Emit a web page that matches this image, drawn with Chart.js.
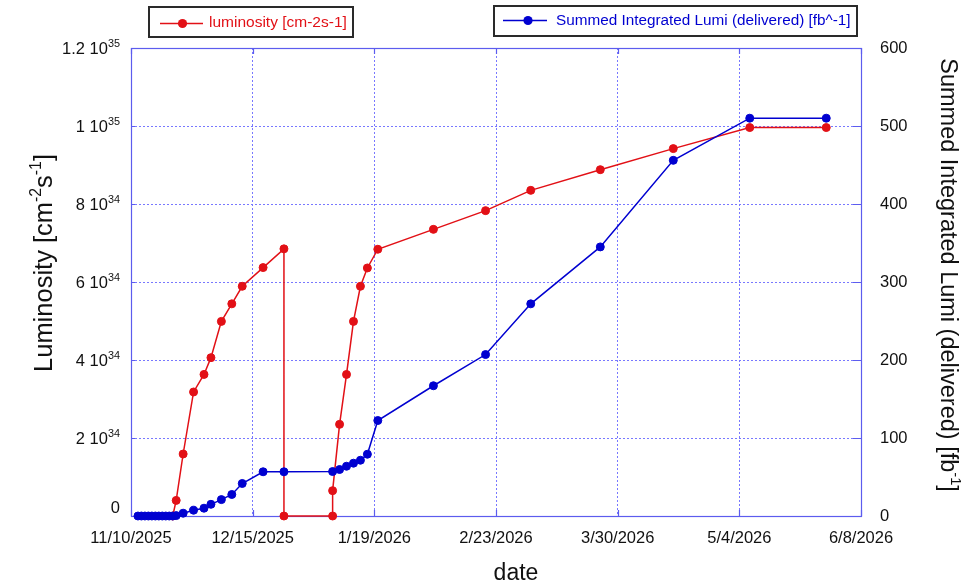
<!DOCTYPE html>
<html><head><meta charset="utf-8">
<script src="https://cdn.jsdelivr.net/npm/chart.js@4"></script>
<style>html,body{margin:0;padding:0;background:#fff;}#wrap{width:978px;height:584px;position:relative;}</style>
</head><body><div id="wrap"><canvas id="c" width="978" height="584"></canvas></div>
<script>
// ---- data ----
const startDate = '2025-11-10';
const xTickLabels = ['11/10/2025','12/15/2025','1/19/2026','2/23/2026','3/30/2026','5/4/2026','6/8/2026'];
const leftTickMantissa = ['0','2 10','4 10','6 10','8 10','1 10','1.2 10'];
const leftTickExponent = ['','34','34','34','34','35','35'];
const rightTickLabels = ['0','100','200','300','400','500','600'];

const lumiDates = ['2025-11-22','2025-11-23','2025-11-25','2025-11-28','2025-12-01','2025-12-03','2025-12-06','2025-12-09','2025-12-12','2025-12-18','2025-12-24','2025-12-24','2026-01-07','2026-01-07','2026-01-09','2026-01-11','2026-01-13','2026-01-15','2026-01-17','2026-01-20','2026-02-05','2026-02-20','2026-03-05','2026-03-25','2026-04-15','2026-05-07','2026-05-29'];
const lumiValues = [0,0.40e34,1.59e34,3.18e34,3.63e34,4.06e34,4.99e34,5.44e34,5.89e34,6.37e34,6.85e34,0,0,0.65e34,2.35e34,3.63e34,4.99e34,5.89e34,6.36e34,6.84e34,7.35e34,7.83e34,8.35e34,8.88e34,9.42e34,9.96e34,9.96e34];

const intDates = ['2025-11-12','2025-11-13','2025-11-14','2025-11-15','2025-11-16','2025-11-17','2025-11-18','2025-11-19','2025-11-20','2025-11-21','2025-11-22','2025-11-23','2025-11-25','2025-11-28','2025-12-01','2025-12-03','2025-12-06','2025-12-09','2025-12-12','2025-12-18','2025-12-24','2026-01-07','2026-01-09','2026-01-11','2026-01-13','2026-01-15','2026-01-17','2026-01-20','2026-02-05','2026-02-20','2026-03-05','2026-03-25','2026-04-15','2026-05-07','2026-05-29'];
const intValues = [0,0,0,0,0,0,0,0,0,0,0,0.5,3.6,7.4,10,15,21,27.6,41.7,56.7,56.7,57,59.6,63.8,67.7,71.5,79.2,122.4,167,207,272,345,456,510,510];

// ---- helpers ----
function dayOf(s){const [y,m,d]=s.split('-').map(Number);const [y0,m0,d0]=startDate.split('-').map(Number);return Math.round((Date.UTC(y,m-1,d)-Date.UTC(y0,m0-1,d0))/864e5);}
const FONT = '"Liberation Sans", Arial, sans-serif';
const RED = 'rgb(226,16,22)';
const BLUE = 'rgb(0,0,208)';
const AXIS = 'rgb(92,92,238)';
const GRID = 'rgb(120,120,255)';

function richText(ctx, parts, x, y, size, align, supScale, supRise){
  supScale = supScale||0.62; supRise = supRise||0.42;
  let w = 0;
  parts.forEach(p=>{ctx.font=(p[1]?size*supScale:size)+'px '+FONT; w+=ctx.measureText(p[0]).width;});
  let cx = align==='center'? x-w/2 : (align==='right'? x-w : x);
  parts.forEach(p=>{
    const s = p[1]?size*supScale:size;
    ctx.font = s+'px '+FONT;
    ctx.fillText(p[0], cx, p[1]? y-size*supRise : y);
    cx += ctx.measureText(p[0]).width;
  });
}

const decor = {
  id:'decor',
  beforeDatasetsDraw(chart){
    const {ctx, chartArea:a, scales} = chart;
    ctx.save();
    ctx.strokeStyle = AXIS; ctx.lineWidth = 1.2;
    ctx.strokeRect(Math.round(a.left)+0.5, Math.round(a.top)+0.5, Math.round(a.right-a.left), Math.round(a.bottom-a.top));
    ctx.beginPath();
    scales.x.ticks.forEach(t=>{const px=Math.round(scales.x.getPixelForValue(t.value))+0.5;ctx.moveTo(px,a.bottom);ctx.lineTo(px,a.bottom-6);ctx.moveTo(px,a.top);ctx.lineTo(px,a.top+6);});
    scales.y.ticks.forEach(t=>{const py=Math.round(scales.y.getPixelForValue(t.value))+0.5;ctx.moveTo(a.left,py);ctx.lineTo(a.left+4,py);ctx.moveTo(a.right,py);ctx.lineTo(a.right-8,py);});
    ctx.stroke();
    ctx.restore();
  },
  afterDraw(chart){
    const {ctx, scales} = chart;
    ctx.save();
    ctx.fillStyle = '#111';
    ctx.textBaseline = 'alphabetic';
    // left tick labels with exponents
    scales.y.ticks.forEach((t,i)=>{
      let py = scales.y.getPixelForValue(t.value);
      if (i===0) py -= 9;
      const parts = [[leftTickMantissa[i],0]];
      if (leftTickExponent[i]) parts.push([leftTickExponent[i],1]);
      richText(ctx, parts, 120, py+6, 16.5, 'right', 0.66, 0.43);
    });
    // x title
    ctx.font = '23px '+FONT; ctx.textAlign='left';
    richText(ctx, [['date',0]], 516, 580, 23, 'center');
    // left title
    ctx.save(); ctx.translate(52, 263); ctx.rotate(-Math.PI/2);
    richText(ctx, [['Luminosity [cm',0],['-2',1],['s',0],['-1',1],[']',0]], 0, 0, 25.5, 'center');
    ctx.restore();
    // right title
    ctx.save(); ctx.translate(941, 275); ctx.rotate(Math.PI/2);
    richText(ctx, [['Summed Integrated Lumi (delivered) [fb',0],['-1',1],[']',0]], 0, 0, 23.5, 'center');
    ctx.restore();
    // legends
    ctx.lineWidth = 2; ctx.strokeStyle = '#2a2a2a';
    ctx.strokeRect(149, 7, 204, 30);
    ctx.strokeRect(494, 6, 363, 30);
    ctx.lineWidth = 1.5;
    ctx.strokeStyle = RED; ctx.beginPath(); ctx.moveTo(160,23.5); ctx.lineTo(203,23.5); ctx.stroke();
    ctx.fillStyle = RED; ctx.beginPath(); ctx.arc(182.5,23.5,4.6,0,Math.PI*2); ctx.fill();
    ctx.font = '15.5px '+FONT; ctx.textBaseline='middle';
    ctx.fillText('luminosity [cm-2s-1]', 209, 23);
    ctx.strokeStyle = BLUE; ctx.beginPath(); ctx.moveTo(503,20.5); ctx.lineTo(547,20.5); ctx.stroke();
    ctx.fillStyle = BLUE; ctx.beginPath(); ctx.arc(528,20.5,4.6,0,Math.PI*2); ctx.fill();
    ctx.font = '15.3px '+FONT;
    ctx.fillText('Summed Integrated Lumi (delivered) [fb^-1]', 556, 20.5);
    ctx.restore();
  }
};

const ctxc = document.getElementById('c').getContext('2d');
new Chart(ctxc, {
  type:'line',
  data:{
    datasets:[
      {label:'Summed Integrated Lumi (delivered) [fb^-1]', yAxisID:'y1', order:0,
       data: intDates.map((d,i)=>({x:dayOf(d), y:intValues[i]})),
       borderColor:BLUE, backgroundColor:BLUE, borderWidth:1.5, pointRadius:4, pointBorderWidth:1, pointBorderColor:BLUE, tension:0, clip:false},
      {label:'luminosity [cm-2s-1]', yAxisID:'y', order:1,
       data: lumiDates.map((d,i)=>({x:dayOf(d), y:lumiValues[i]})),
       borderColor:RED, backgroundColor:RED, borderWidth:1.5, pointRadius:4, pointBorderWidth:1, pointBorderColor:RED, tension:0, clip:false}
    ]
  },
  options:{
    responsive:false, animation:false, devicePixelRatio:1,
    layout:{padding:{top:48, left:0, right:0, bottom:0}},
    plugins:{legend:{display:false}, tooltip:{enabled:false}},
    scales:{
      x:{type:'linear', position:'bottom', min:0, max:210,
         afterFit(s){s.height=68;},
         ticks:{stepSize:35, autoSkip:false, maxRotation:0, padding:13, color:'#111', font:{family:FONT, size:16.5},
                callback:(v,i)=>xTickLabels[i]},
         grid:{color:GRID, lineWidth:1, drawTicks:false},
         border:{display:false, dash:[2,2]}},
      y:{type:'linear', position:'left', min:0, max:1.2e35,
         afterFit(s){s.width=131;},
         ticks:{stepSize:2e34, display:false},
         grid:{color:GRID, lineWidth:1, drawTicks:false},
         border:{display:false, dash:[2,2]}},
      y1:{type:'linear', position:'right', min:0, max:600,
         afterFit(s){s.width=117;},
         ticks:{stepSize:100, padding:19, color:'#111', font:{family:FONT, size:16.5},
                callback:(v,i)=>rightTickLabels[i]},
         grid:{drawOnChartArea:false, drawTicks:false},
         border:{display:false}}
    }
  },
  plugins:[decor]
});
</script></body></html>
